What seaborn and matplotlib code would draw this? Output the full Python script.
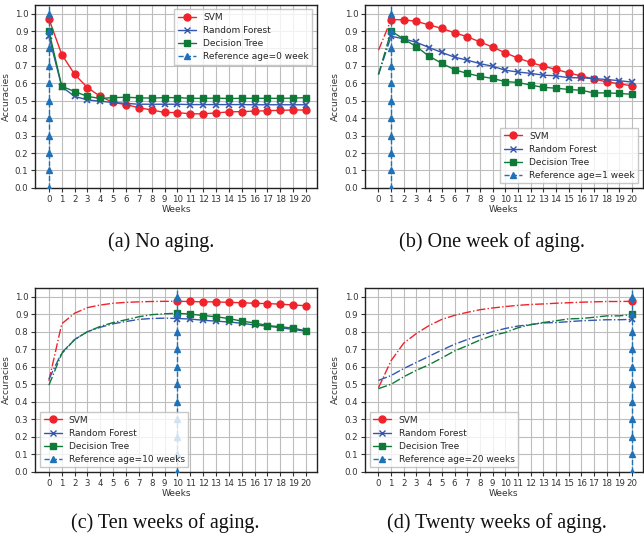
import numpy as np
import pandas as pd
import matplotlib
matplotlib.use("Agg")
import matplotlib.pyplot as plt
import seaborn as sns
from matplotlib.lines import Line2D

weeks = list(range(21))

# accuracies per reference age
svm_ref0 = [0.97, 0.765, 0.652, 0.575, 0.525, 0.49, 0.478, 0.46, 0.447, 0.433, 0.432,
            0.425, 0.425, 0.43, 0.436, 0.438, 0.44, 0.443, 0.445, 0.447, 0.447]
rf_ref0 = [0.87, 0.58, 0.525, 0.505, 0.497, 0.49, 0.485, 0.48, 0.48, 0.48, 0.48,
           0.478, 0.478, 0.478, 0.478, 0.478, 0.477, 0.477, 0.477, 0.477, 0.477]
dt_ref0 = [0.90, 0.583, 0.553, 0.525, 0.513, 0.518, 0.52, 0.517, 0.515, 0.518, 0.518,
           0.514, 0.514, 0.515, 0.513, 0.514, 0.514, 0.514, 0.514, 0.515, 0.518]

svm_ref1 = [0.79, 0.965, 0.965, 0.955, 0.935, 0.915, 0.89, 0.867, 0.838, 0.808, 0.775,
            0.745, 0.72, 0.698, 0.68, 0.66, 0.642, 0.625, 0.608, 0.598, 0.585]
rf_ref1 = [0.65, 0.87, 0.855, 0.835, 0.805, 0.777, 0.75, 0.733, 0.713, 0.698, 0.675,
           0.665, 0.657, 0.647, 0.643, 0.632, 0.632, 0.627, 0.622, 0.615, 0.607]
dt_ref1 = [0.65, 0.90, 0.853, 0.81, 0.755, 0.715, 0.678, 0.657, 0.64, 0.628, 0.61,
           0.605, 0.59, 0.577, 0.572, 0.565, 0.56, 0.545, 0.545, 0.542, 0.537]

svm_ref10 = [0.52, 0.845, 0.905, 0.937, 0.952, 0.962, 0.967, 0.97, 0.972, 0.973, 0.973,
             0.972, 0.97, 0.97, 0.967, 0.965, 0.962, 0.96, 0.957, 0.952, 0.948]
rf_ref10 = [0.53, 0.68, 0.755, 0.80, 0.825, 0.845, 0.858, 0.87, 0.875, 0.877, 0.875,
            0.872, 0.865, 0.86, 0.855, 0.848, 0.838, 0.832, 0.822, 0.813, 0.802]
dt_ref10 = [0.495, 0.675, 0.755, 0.80, 0.83, 0.852, 0.868, 0.885, 0.897, 0.902, 0.905,
            0.90, 0.892, 0.885, 0.875, 0.86, 0.85, 0.835, 0.828, 0.82, 0.805]

svm_ref20 = [0.48, 0.635, 0.735, 0.79, 0.835, 0.87, 0.893, 0.91, 0.925, 0.935, 0.943,
             0.95, 0.955, 0.958, 0.962, 0.965, 0.968, 0.97, 0.972, 0.972, 0.973]
rf_ref20 = [0.522, 0.55, 0.59, 0.625, 0.66, 0.695, 0.728, 0.755, 0.778, 0.80, 0.818,
            0.832, 0.84, 0.85, 0.852, 0.857, 0.862, 0.865, 0.868, 0.868, 0.87]
dt_ref20 = [0.475, 0.50, 0.543, 0.58, 0.612, 0.65, 0.69, 0.72, 0.752, 0.778, 0.795,
            0.822, 0.84, 0.852, 0.862, 0.873, 0.875, 0.882, 0.89, 0.89, 0.898]

ref_ticks = [0.0, 0.1, 0.2, 0.3, 0.4, 0.5, 0.6, 0.7, 0.8, 0.9, 1.0]

panels = [
    (0, svm_ref0, rf_ref0, dt_ref0, "Reference age=0 week", "upper right", "(a) No aging."),
    (1, svm_ref1, rf_ref1, dt_ref1, "Reference age=1 week", "lower right", "(b) One week of aging."),
    (10, svm_ref10, rf_ref10, dt_ref10, "Reference age=10 weeks", "lower left", "(c) Ten weeks of aging."),
    (20, svm_ref20, rf_ref20, dt_ref20, "Reference age=20 weeks", "lower left", "(d) Twenty weeks of aging."),
]

models = [("SVM", "#f0232b", "o"), ("Random Forest", "#3556ad", "x"), ("Decision Tree", "#0f7a38", "s")]
ref_color = "#1f72b8"

sns.set_style("whitegrid", {
    "grid.color": "#bdbdbd",
    "axes.edgecolor": "#222222",
    "xtick.bottom": True,
    "ytick.left": True,
})
plt.rcParams["font.family"] = ["DejaVu Sans"]

fig = plt.figure(figsize=(6.44, 5.4), dpi=100)
positions = [
    [0.055, 0.652, 0.437, 0.339],
    [0.567, 0.652, 0.431, 0.339],
    [0.055, 0.126, 0.437, 0.341],
    [0.567, 0.126, 0.431, 0.341],
]
caption_xy = [(0.250, 0.552), (0.764, 0.552), (0.256, 0.031), (0.772, 0.031)]

for (ref, svm, rf, dt, ref_label, loc, caption), pos, cxy in zip(panels, positions, caption_xy):
    ax = fig.add_axes(pos)
    handles = []
    for (name, color, mk), vals in zip(models, [svm, rf, dt]):
        df = pd.DataFrame({"week": weeks, "acc": vals})
        before = df[df["week"] <= ref]
        after = df[df["week"] >= ref]
        if len(before) > 1:
            sns.lineplot(data=before, x="week", y="acc", ax=ax, color=color,
                         linestyle="-.", linewidth=1.0, estimator=None, sort=False)
        sns.lineplot(data=after, x="week", y="acc", ax=ax, color=color,
                     marker=mk, markersize=5, markeredgecolor=color,
                     markeredgewidth=1.0 if mk != "x" else 1.2,
                     linewidth=1.0, estimator=None, sort=False)
        handles.append(Line2D([], [], color=color, marker=mk, markersize=5, linewidth=1.0, label=name))

    ax.axvline(ref, color=ref_color, linestyle="--", linewidth=1.0, zorder=4)
    ax.plot([ref] * len(ref_ticks), ref_ticks, color=ref_color, linestyle="none",
            marker="^", markersize=5, zorder=4)
    handles.append(Line2D([], [], color=ref_color, marker="^", markersize=5,
                          linestyle="--", linewidth=1.0, label=ref_label))

    ax.set_xlim(-1.05, 20.85)
    ax.set_ylim(0, 1.05)
    ax.set_xticks(weeks)
    ax.set_yticks(ref_ticks)
    ax.set_yticklabels([f"{v:.1f}" for v in ref_ticks])
    ax.tick_params(labelsize=6.2, length=3, width=0.8, pad=2, colors="#333333")
    ax.grid(True, linewidth=0.8)
    for sp in ax.spines.values():
        sp.set_linewidth(1.0)
    ax.set_xlabel("Weeks", fontsize=6.5, labelpad=1, color="#333333")
    ax.set_ylabel("Accuracies", fontsize=6.5, labelpad=3, color="#333333")
    ax.legend(handles=handles, loc=loc, fontsize=6.5, frameon=True, framealpha=0.8,
              edgecolor="#bbbbbb", fancybox=False, handlelength=2.0, borderpad=0.4,
              labelspacing=0.45)

    fig.text(cxy[0], cxy[1], caption, ha="center", va="center", fontsize=14.5,
             family=["Liberation Serif", "DejaVu Serif"], color="#111111")

fig.savefig("out.png", dpi=100)
